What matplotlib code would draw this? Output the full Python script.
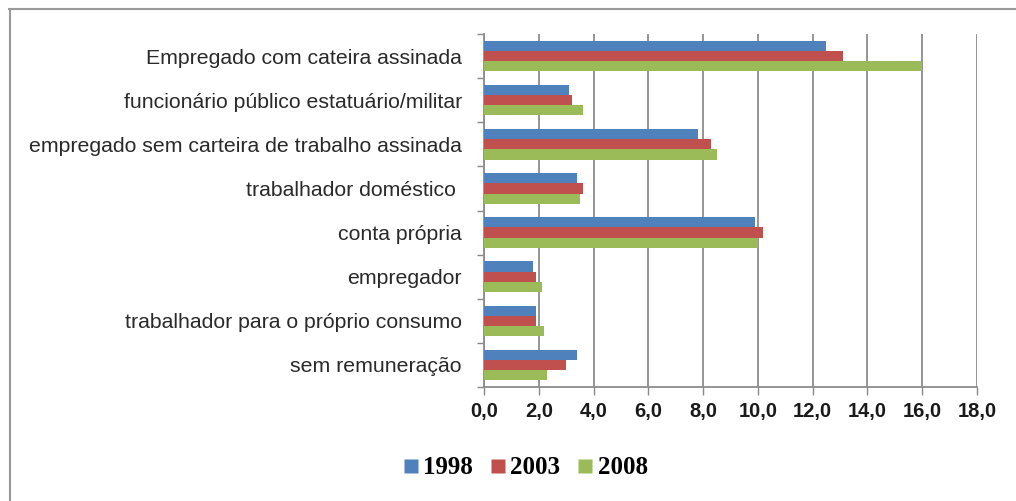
import matplotlib
matplotlib.use("Agg")
import matplotlib.pyplot as plt
import numpy as np
from matplotlib.lines import Line2D

categories = [
    "Empregado com cateira assinada",
    "funcionário público estatuário/militar",
    "empregado sem carteira de trabalho assinada",
    "trabalhador doméstico ",
    "conta própria",
    "empregador",
    "trabalhador para o próprio consumo",
    "sem remuneração",
]
series_names = ["1998", "2003", "2008"]
v1998 = [12.5, 3.1, 7.8, 3.4, 9.9, 1.8, 1.9, 3.4]
v2003 = [13.1, 3.2, 8.3, 3.6, 10.2, 1.9, 1.9, 3.0]
v2008 = [16.0, 3.6, 8.5, 3.5, 10.0, 2.1, 2.2, 2.3]
colors = ["#4F81BD", "#C0504D", "#9BBB59"]
xticks = [0, 2, 4, 6, 8, 10, 12, 14, 16, 18]
xticklabels = ["0,0", "2,0", "4,0", "6,0", "8,0", "10,0", "12,0", "14,0", "16,0", "18,0"]

W, H = 1016, 501
fig = plt.figure(figsize=(W / 100, H / 100), dpi=100)
ax = fig.add_axes([484 / W, 1 - 387 / H, (977 - 484) / W, (387 - 34) / H])

n = len(categories)
y = np.arange(n)
bh = 0.23
for i, (vals, c, name) in enumerate(zip([v1998, v2003, v2008], colors, series_names)):
    ax.barh(y + (i - 1) * bh, vals, height=bh, color=c, label=name, zorder=3,
            edgecolor="none")

ax.set_ylim(n - 0.5, -0.5)
ax.set_xlim(0, 18)
ax.set_xticks(xticks)
ax.set_xticklabels(xticklabels, fontfamily="Liberation Sans", fontweight="bold",
                   fontsize=14.5, color="#1a1a1a")
ax.set_yticks(y)
ax.set_yticklabels(categories, fontfamily="Liberation Sans", fontsize=15.3, color="#2a2a2a")
ax.set_yticks(np.arange(n + 1) - 0.5, minor=True)
ax.tick_params(axis="y", which="major", length=0, pad=16)
ax.tick_params(axis="y", which="minor", length=5, color="#888888", width=1)
ax.tick_params(axis="x", length=6, color="#888888", width=1, pad=5)
ax.grid(axis="x", color="#8c8c8c", linewidth=1.3, zorder=0)
for s in ["top", "right"]:
    ax.spines[s].set_visible(False)
for s in ["left", "bottom"]:
    ax.spines[s].set_color("#8c8c8c")
    ax.spines[s].set_linewidth(1.3)

handles = [Line2D([], [], marker="s", linestyle="none", markersize=9.5,
                  markerfacecolor=c, markeredgecolor="none") for c in colors]
fig.legend(handles, series_names, loc="center", bbox_to_anchor=(523 / W, 1 - 468 / H),
           ncol=3, frameon=False, handletextpad=0.0, columnspacing=0.5,
           handlelength=1.0,
           prop={"family": "Liberation Serif", "weight": "bold", "size": 18})

# outer frame (top and left)
fig.add_artist(Line2D([9 / W, 1.0], [1 - 9 / H, 1 - 9 / H], transform=fig.transFigure,
                      color="#999999", linewidth=1.5))
fig.add_artist(Line2D([10 / W, 10 / W], [0, 1 - 9 / H], transform=fig.transFigure,
                      color="#999999", linewidth=1.5))

fig.savefig("out.png", dpi=100)
